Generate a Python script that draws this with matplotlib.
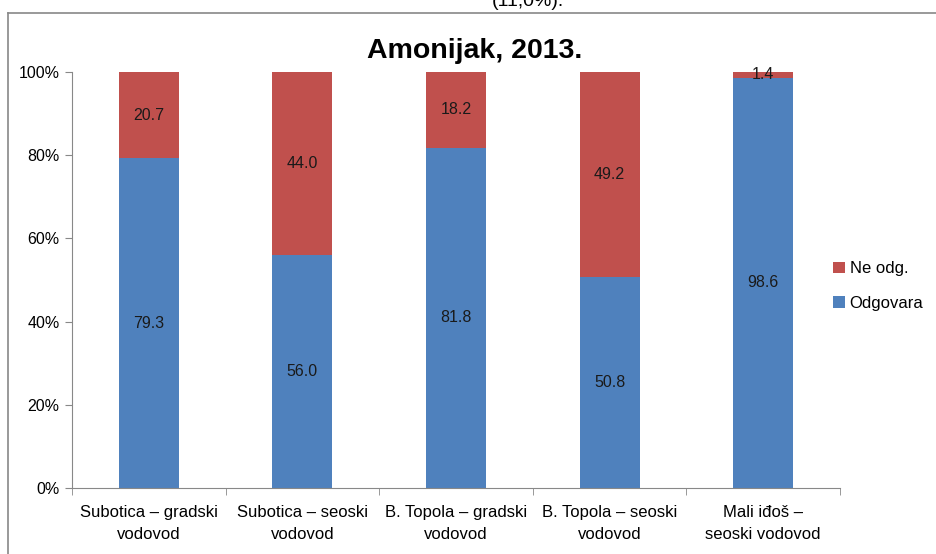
import numpy as np
import matplotlib.pyplot as plt
from matplotlib.lines import Line2D
from matplotlib.ticker import FuncFormatter

# Data
categories = ["Subotica – gradski\nvodovod", "Subotica – seoski\nvodovod",
              "B. Topola – gradski\nvodovod", "B. Topola – seoski\nvodovod",
              "Mali iđoš –\nseoski vodovod"]
odgovara = [79.3, 56.0, 81.8, 50.8, 98.6]
ne_odg = [20.7, 44.0, 18.2, 49.2, 1.4]

blue = "#4F81BD"
red = "#C0504D"
plt.rcParams['font.family'] = ['Liberation Sans', 'DejaVu Sans']

W, H = 936, 554
fig = plt.figure(figsize=(W / 100, H / 100), dpi=100)
fig.patch.set_facecolor("white")

# axes placed in pixel coordinates (x 72..840, y 72..488)
ax = fig.add_axes([72 / W, 1 - 488 / H, (840 - 72) / W, (488 - 72) / H])

x = np.arange(len(categories))
bw = 0.39
b1 = ax.bar(x, odgovara, bw, color=blue, label="Odgovara")
b2 = ax.bar(x, ne_odg, bw, bottom=odgovara, color=red, label="Ne odg.")

# value labels
for xi, v in zip(x, odgovara):
    ax.text(xi, v / 2, f"{v:.1f}", ha="center", va="center", fontsize=11.5, color="#1a1a1a")
for xi, b, v in zip(x, odgovara, ne_odg):
    ax.text(xi, b + v / 2, f"{v:.1f}", ha="center", va="center", fontsize=11.5, color="#1a1a1a")

ax.set_xlim(-0.5, len(categories) - 0.5)
ax.set_ylim(0, 100)
ax.set_yticks(np.arange(0, 101, 20))
ax.yaxis.set_major_formatter(FuncFormatter(lambda v, p: f"{int(v)}%"))
ax.set_xticks(x)
ax.set_xticklabels(categories, fontsize=12, linespacing=1.65)
ax.set_xticks(np.arange(-0.5, len(categories)), minor=True)
ax.tick_params(axis="x", which="major", length=0, pad=12)
ax.tick_params(axis="x", which="minor", length=5, color="#888888")
ax.tick_params(axis="y", length=5, color="#888888", labelsize=11.5, pad=4)

for s in ["top", "right"]:
    ax.spines[s].set_visible(False)
for s in ["left", "bottom"]:
    ax.spines[s].set_color("#888888")

fig.text(475 / W, 1 - 58 / H, "Amonijak, 2013.", fontsize=20.5, fontweight="bold",
         ha="center", va="baseline")

handles = [b2, b1]
ax.legend(handles, [h.get_label() for h in handles], loc="center left",
          bbox_to_anchor=(818 / W, 1 - 286 / H), bbox_transform=fig.transFigure,
          frameon=False, fontsize=12, handlelength=0.7, handleheight=0.7,
          handletextpad=0.3, labelspacing=1.15)

# chart border and the cut off text from the document above
fig.add_artist(Line2D([8 / W, 1], [1 - 13 / H, 1 - 13 / H], color="#888888", lw=1.2))
fig.add_artist(Line2D([8 / W, 8 / W], [0, 1 - 13 / H], color="#888888", lw=1.2))
fig.text(492 / W, 1 - 6 / H, "(11,0%).", fontsize=14, va="baseline", ha="left")

fig.savefig("out.png", dpi=100)
